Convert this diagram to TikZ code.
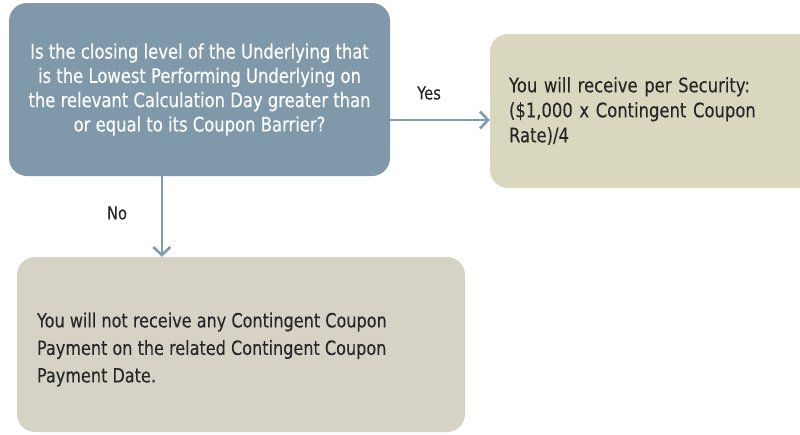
\documentclass[tikz,border=0pt]{standalone}
\usepackage{fontspec}
\setmainfont{DejaVu Sans}[FakeStretch=0.82,FakeBold=0.15]
\usetikzlibrary{arrows.meta,calc}
\definecolor{qblue}{HTML}{8099AA}
\definecolor{yesbox}{HTML}{D9D8BF}
\definecolor{nobox}{HTML}{D6D3C6}
\definecolor{arrowc}{HTML}{7F9CAE}
\definecolor{txt}{HTML}{262626}
\tikzset{
  box/.style={rounded corners=18pt, inner sep=0pt, anchor=center},
  flow/.style={draw=arrowc, line width=2.6pt, -{Straight Barb[length=8pt,width=17pt,line width=2.6pt]}},
  lbl/.style={font=\fontsize{18}{20}\selectfont, text=txt, inner sep=0pt}
}
\begin{document}
\begin{tikzpicture}[x=1pt,y=-1pt]
\useasboundingbox (0,0) rectangle (800,434);
\clip (0,0) rectangle (800,434);
\fill[white] (0,0) rectangle (800,434);
\node[box, fill=qblue, minimum width=381pt, minimum height=173pt, text=white,
  align=center, font=\fontsize{20}{24.3}\selectfont] (q) at (199.5,89.5)
  {Is the closing level of the Underlying that\\ is the Lowest Performing Underlying on\\ the relevant Calculation Day greater than\\ or equal to its Coupon Barrier?};
\node[box, fill=yesbox, minimum width=340pt, minimum height=154pt, text=txt,
  align=left, text width=302pt, inner xsep=19pt, font=\fontsize{20}{25}\selectfont] (y) at (660,111)
  {You will receive per Security:\\ (\$1,000 x Contingent Coupon\\ Rate)/4};
\node[box, fill=nobox, minimum width=448pt, minimum height=175pt] (n) at (241,344.5) {};
\node[anchor=west, inner sep=0pt, text=txt, align=left, font=\fontsize{19.6}{27.5}\selectfont]
  (nt) at ($(n.west)+(20,5)$)
  {You will not receive any Contingent Coupon\\ Payment on the related Contingent Coupon\\ Payment Date.};
\coordinate (ys) at ($(q.east)+(0,30.5)$);
\draw[flow] (ys) -- (ys -| y.west);
\coordinate (ns) at ($(q.south west)+(153,0)$);
\draw[flow] (ns) -- (ns |- n.north);
\node[lbl] (yl) at (429,93) {Yes};
\node[lbl] (nl) at (117,213) {No};
\end{tikzpicture}
\end{document}
